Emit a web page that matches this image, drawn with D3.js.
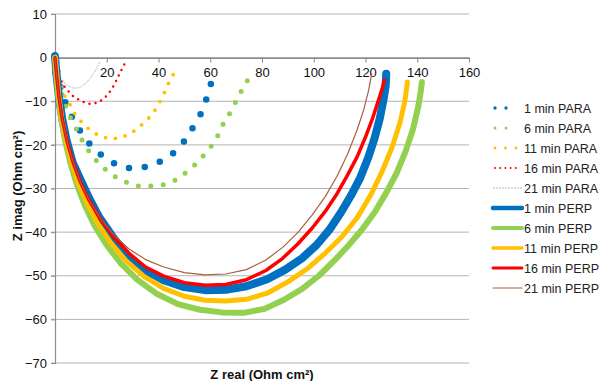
<!DOCTYPE html>
<html>
<head>
<meta charset="utf-8">
<script src="https://cdn.jsdelivr.net/npm/d3@7"></script>
<style>
    body { margin: 0; background: #fff; }
    text { font-family: "Liberation Sans", Arial, sans-serif; }
</style>
</head>
<body>
<div id="chart"></div>
<script>
// tick values
var xTicks = [0, 20, 40, 60, 80, 100, 120, 140, 160];
var yTicks = [10, 0, -10, -20, -30, -40, -50, -60, -70];

// series names, in drawing order
var seriesNames = ['1 min PARA', '6 min PARA', '11 min PARA', '16 min PARA', '21 min PARA',
    '1 min PERP', '6 min PERP', '11 min PERP', '16 min PERP', '21 min PERP'];

// [Z real, Z imag]
var para1 = [[0, 0.5], [0.8, -3], [2, -6.5], [3.5, -9.5], [5.3, -12.2], [7.5, -14.6], [10.7, -17.8],
    [14.8, -20.8], [19.7, -23.2], [25.4, -25.1], [31.8, -25.5], [38.1, -24.6], [43.8, -22.9],
    [48.7, -20.3], [51.9, -17.3], [55.7, -13.8], [58, -10.4], [60, -6.7], [61.3, -3.1]];
var para6 = [[0, 0], [0.8, -3.5], [2, -7], [3.5, -10.3], [5.7, -13.5], [8.4, -16.5], [10.7, -19.2],
    [13.3, -21.6], [16.1, -23.7], [19.7, -25.7], [23.8, -27.5], [28.1, -28.7], [32.6, -29.5],
    [37.5, -29.4], [42.1, -29.1], [46.5, -28.1], [50.5, -26.4], [54, -24.6], [57.3, -22.5],
    [60.5, -20.2], [62.9, -17.9], [65, -15.2], [67.6, -12.7], [69.8, -10.2], [72, -7.7], [74.5, -5.1]];
var para11 = [[0, 0], [0.7, -2.8], [1.7, -5.5], [3.3, -8.3], [5.8, -10.8], [7.5, -12.7], [9.7, -14.4],
    [12.3, -16], [15.2, -17.3], [18.9, -18.3], [22.5, -18.6], [26.2, -18.2], [29.5, -17.3],
    [32.6, -15.9], [35.4, -14.4], [38, -12.7], [39.9, -10.8], [41.6, -8.9], [43.2, -6.8],
    [44.7, -4.8], [46.8, -2.9]];
var para16 = [[0, 0], [0.8, -2.5], [2, -4.8], [3.2, -6.3], [4.5, -7.3], [7.1, -8.9], [9.7, -9.8],
    [12.5, -10.6], [14.8, -10.6], [17.4, -10], [19.7, -8.9], [21.9, -7.3], [23.6, -5.4],
    [25.1, -3.5], [26.4, -2], [27.4, -0.8]];
var para21 = [[0, 0], [1, -2.5], [2.5, -4.8], [4.5, -6.3], [7, -7], [9.5, -6.9], [12, -5.9],
    [14.5, -4], [16.5, -2], [17.5, -0.8]];

var perp1 = [[0, 0.3], [0.6, -4], [1.5, -9], [2.8, -14], [4.5, -19], [6.8, -24], [9.5, -27.5],
    [13, -32], [17, -36.5], [22, -40.8], [28, -45.5], [35, -48.8], [42, -51], [50, -52.6],
    [58, -53.3], [66, -53.2], [74, -52.4], [82, -50.8], [89, -48.6], [95.5, -46], [101, -43],
    [106, -39.5], [110.5, -35.5], [114.5, -31.5], [118, -27.5], [121, -23], [123.5, -18.5],
    [125.5, -14], [127, -9.5], [127.8, -6.5], [128, -3.7]];
var perp6 = [[0, 0], [0.5, -4], [1.3, -9], [2.4, -14], [3.9, -19], [5.9, -24], [8.4, -29],
    [11.5, -33.8], [15.3, -38.5], [20, -43], [25.5, -47.2], [32, -51], [39.5, -54.2],
    [47.5, -56.5], [56, -57.8], [64.5, -58.4], [73, -58.5], [81, -57.6], [88.5, -55.5],
    [95.5, -53], [102, -50], [108, -46.5], [113.5, -43], [118.5, -39.5], [123.5, -35.5],
    [128, -31], [132, -26.5], [135.5, -21.5], [138.3, -16.5], [140.3, -11.5], [141.3, -8], [141.8, -5.6]];
var perp11 = [[0, 0], [0.6, -4], [1.4, -9], [2.6, -14], [4.2, -19], [6.4, -24], [9, -28.8],
    [12.4, -33.4], [16.5, -38], [21.5, -42.4], [27.5, -46.6], [34.5, -50.2], [42, -52.9],
    [50, -54.7], [58, -55.6], [66, -55.8], [74, -55.4], [82, -54], [90, -51.4], [97.5, -48.4],
    [104.5, -44.8], [111, -41], [117, -36.5], [122, -31.5], [126.5, -26], [130.3, -20.5],
    [133.3, -15], [135.2, -10], [136.2, -5.6]];
var perp16 = [[0, 0], [0.6, -4], [1.5, -9], [2.8, -14], [4.6, -19], [7, -24], [9.8, -28.5],
    [13.3, -32.8], [17.5, -37], [22.5, -41], [28.5, -44.8], [35, -48], [42, -50.1], [50, -51.6],
    [58, -52.2], [66, -52], [74, -50.9], [81.5, -48.8], [88, -46], [94, -42.6], [99.5, -39],
    [104.5, -35.2], [109, -31.2], [113, -27], [116.8, -22.7], [120, -18.2], [122.8, -13.8],
    [125, -9.8], [126.5, -7], [127.2, -5.2]];
var perp21 = [[0, 0], [0.6, -4], [1.5, -9], [2.8, -14], [4.6, -19], [7, -24], [9.8, -28.5],
    [13.3, -32.8], [17.5, -36.8], [22.5, -40.5], [28.5, -43.8], [35, -46.3], [42, -48],
    [50, -49.3], [58, -49.8], [66, -49.6], [74, -48.6], [81.5, -46.4], [88, -43.5], [94, -40],
    [99.5, -36], [104.5, -31.8], [109, -27.2], [113, -22.2], [116.5, -17], [119.3, -12],
    [121.2, -7.5], [122.4, -3.7]];

var seriesData = [para1, para6, para11, para16, para21, perp1, perp6, perp11, perp16, perp21];

// drawing styles
var styles = [
    { color: '#0070c0', width: 6.5, dash: '0 16', lw: 3.4, ldash: '0 11' },
    { color: '#92d050', width: 5, dash: '0 12.5', lw: 3, ldash: '0 11' },
    { color: '#ffc000', width: 3.8, dash: '0 10', lw: 2.8, ldash: '0 10.5' },
    { color: '#ff0000', width: 2.5, dash: '0 6.2', lw: 2, ldash: '0 5.2' },
    { color: '#c4b8ac', width: 1, dash: '2 1', lw: 1, ldash: '2 1' },
    { color: '#0070c0', width: 8, dash: null, lw: 4.5 },
    { color: '#92d050', width: 6, dash: null, lw: 4 },
    { color: '#ffc000', width: 5, dash: null, lw: 3.5 },
    { color: '#ff0000', width: 3.5, dash: null, lw: 3 },
    { color: '#a5603c', width: 1.2, dash: null, lw: 1.2 }
];

var width = 603;
var height = 381;

var svg = d3.select('#chart')
    .append('svg')
    .attr('width', width)
    .attr('height', height);

var xScale = d3.scaleLinear().domain([0, 160]).range([55, 469]);
var yScale = d3.scaleLinear().domain([-70, 10]).range([363, 14]);

// gridlines
svg.append('g')
    .selectAll('line')
    .data(yTicks.filter(function(d) { return d != 0; }))
    .enter()
    .append('line')
    .attr('x1', xScale(0) - 4)
    .attr('x2', xScale(160))
    .attr('y1', function(d) { return yScale(d); })
    .attr('y2', function(d) { return yScale(d); })
    .attr('stroke', '#b4b4b4')
    .attr('stroke-width', 1);

// y axis
var yAxis = d3.axisLeft(yScale)
    .tickValues(yTicks)
    .tickSize(4)
    .tickPadding(4)
    .tickFormat(d3.format('d'));
var yg = svg.append('g')
    .attr('transform', 'translate(' + xScale(0) + ',0)')
    .call(yAxis);
yg.select('.domain').attr('stroke', '#8c8c8c').attr('stroke-width', 1.2);
yg.selectAll('.tick line').attr('stroke', '#8c8c8c');
yg.selectAll('.tick text')
    .attr('font-size', 13)
    .attr('fill', '#111')
    .style('font-family', '"Liberation Sans", Arial, sans-serif');

// x axis along zero
var xAxis = d3.axisBottom(xScale)
    .tickValues(xTicks)
    .tickSize(5)
    .tickPadding(5)
    .tickSizeOuter(0)
    .tickFormat(d3.format('d'));
var xg = svg.append('g')
    .attr('transform', 'translate(0,' + yScale(0) + ')')
    .call(xAxis);
xg.select('.domain').attr('stroke', '#8c8c8c').attr('stroke-width', 1.6);
xg.selectAll('.tick line').attr('stroke', '#8c8c8c');
xg.selectAll('.tick text')
    .attr('font-size', 13)
    .attr('fill', '#111')
    .style('font-family', '"Liberation Sans", Arial, sans-serif');

// series
var line = d3.line()
    .x(function(d) { return xScale(d[0]); })
    .y(function(d) { return yScale(d[1]); });

var plot = svg.append('g');
seriesData.forEach(function(data, i) {
    var s = styles[i];
    var p = plot.append('path')
        .datum(data)
        .attr('d', line)
        .attr('fill', 'none')
        .attr('stroke', s.color)
        .attr('stroke-width', s.width)
        .attr('stroke-linejoin', 'round')
        .attr('stroke-linecap', i == 4 ? 'butt' : 'round');
    if (s.dash) p.attr('stroke-dasharray', s.dash);
});

// legend
var legend = svg.append('g');
seriesNames.forEach(function(name, i) {
    var s = styles[i];
    var ly = 108 + i * 20;
    var x1 = i < 4 ? 495 : 493;
    var x2 = i < 4 ? 517 : 522;
    var l = legend.append('line')
        .attr('x1', x1)
        .attr('x2', i == 3 ? 520 : x2)
        .attr('y1', ly)
        .attr('y2', ly)
        .attr('stroke', s.color)
        .attr('stroke-width', s.lw)
        .attr('stroke-linecap', i == 4 ? 'butt' : 'round');
    if (s.ldash) l.attr('stroke-dasharray', s.ldash);
    legend.append('text')
        .attr('x', 524)
        .attr('y', ly + 4.5)
        .attr('font-size', 12.5)
        .attr('fill', '#222')
        .text(name);
});

// axis titles
svg.append('text')
    .attr('x', 262)
    .attr('y', 379)
    .attr('text-anchor', 'middle')
    .attr('font-size', 13)
    .attr('font-weight', 'bold')
    .attr('fill', '#111')
    .text('Z real (Ohm cm²)');

svg.append('text')
    .attr('transform', 'translate(22,186) rotate(-90)')
    .attr('text-anchor', 'middle')
    .attr('font-size', 13)
    .attr('font-weight', 'bold')
    .attr('fill', '#111')
    .text('Z imag (Ohm cm²)');
</script>
</body>
</html>
